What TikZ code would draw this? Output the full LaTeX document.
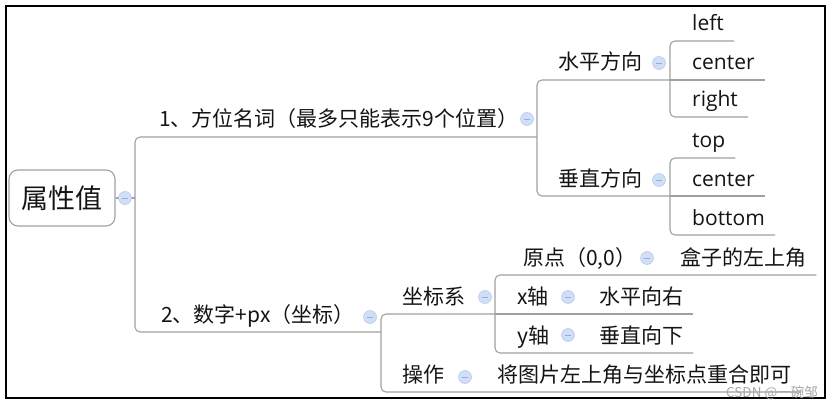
\documentclass[tikz,border=0pt]{standalone}
\usepackage{fontspec}
\setmainfont{Noto Sans CJK SC}
\newfontfamily\latinfont{Open Sans}
\definecolor{linegray}{RGB}{160,160,160}
\definecolor{textc}{RGB}{20,20,20}
\definecolor{togfill}{RGB}{208,222,246}
\definecolor{togdraw}{RGB}{178,198,236}
\definecolor{togminus}{RGB}{150,172,214}
\definecolor{wmark}{RGB}{165,165,165}
\begin{document}
\begin{tikzpicture}[x=1pt,y=-1pt,
  conn/.style={draw=linegray, line width=1.1pt, rounded corners=5pt},
  lbl/.style={anchor=base west, inner sep=0pt, font=\fontsize{21}{25}\selectfont, text=textc},
  lat/.style={lbl, font=\latinfont\fontsize{21}{25}\selectfont},
  tog/.style={circle, fill=togfill, draw=togdraw, line width=0.5pt, minimum size=13pt, inner sep=0pt,
    path picture={\draw[togminus, line width=0.9pt] ([xshift=-3pt]path picture bounding box.center) -- ([xshift=3pt]path picture bounding box.center);}}
]
\useasboundingbox (0,0) rectangle (833,409);
\draw[black, line width=2.2pt] (6,6) rectangle (825,398);

% root
\node[draw=linegray, line width=1.1pt, rounded corners=9pt, minimum width=106pt, minimum height=56pt,
      inner sep=0pt, font=\fontsize{27}{30}\selectfont, text=textc] (root) at (62,198) {属性值};

% labels
\node[lbl] (n1) at (159,127) {1、方位名词（最多只能表示9个位置）};
\node[lbl] (h) at (558,70) {水平方向};
\node[lat] (l1) at (692,31) {left};
\node[lat] (l2) at (692,70) {center};
\node[lat] (l3) at (692,107) {right};
\node[lbl] (v) at (558,186) {垂直方向};
\node[lat] (l4) at (692,148) {top};
\node[lat] (l5) at (692,186) {center};
\node[lat] (l6) at (692,225) {bottom};
\node[lbl] (n2) at (161,322) {2、数字+px（坐标）};
\node[lbl] (zb) at (402,304) {坐标系};
\node[lbl] (yd) at (523,265) {原点（0,0）};
\node[lbl] (yd2) at (680,265) {盒子的左上角};
\node[lbl] (xa) at (517,304) {x轴};
\node[lbl] (xa2) at (599,304) {水平向右};
\node[lbl] (ya) at (517,343) {y轴};
\node[lbl] (ya2) at (599,343) {垂直向下};
\node[lbl] (cz) at (402,382) {操作};
\node[lbl] (cz2) at (497,382) {将图片左上角与坐标点重合即可};

% bracket points
\coordinate (j0t) at (135,137); \coordinate (j0b) at (135,332);
\coordinate (j1m) at (537,137); \coordinate (j1t) at (537,80); \coordinate (j1b) at (537,196);
\coordinate (jht) at (670,41); \coordinate (jhm) at (670,80); \coordinate (jhb) at (670,117);
\coordinate (jvt) at (670,158); \coordinate (jvm) at (670,196); \coordinate (jvb) at (670,235);
\coordinate (j2m) at (381,332); \coordinate (j2t) at (381,314); \coordinate (j2b) at (381,392);
\coordinate (j3t) at (495,275); \coordinate (j3m) at (495,314); \coordinate (j3b) at (495,353);

% connectors
\draw[conn] (root.east) -- (root.east -| j0t);
\draw[conn] (j1m) -- (j0t) -- (j0b) -- (j2m);
\draw[conn] (jhm) -- (j1t) -- (j1b) -- (jvm);
\draw[conn] ([shift={(10pt,-10pt)}]l1.base east) -- (jht) -- (jhb) -- ([shift={(10pt,-10pt)}]l3.base east);
\draw[conn] (jhm) -- ([shift={(10pt,-10pt)}]l2.base east);
\draw[conn] ([shift={(10pt,-10pt)}]l4.base east) -- (jvt) -- (jvb) -- ([shift={(10pt,-10pt)}]l6.base east);
\draw[conn] (jvm) -- ([shift={(10pt,-10pt)}]l5.base east);
\draw[conn] (j3m) -- (j2t) -- (j2b) -- ([shift={(10pt,-10pt)}]cz2.base east);
\draw[conn] ([shift={(10pt,-10pt)}]yd2.base east) -- (j3t) -- (j3b) -- ([shift={(10pt,-10pt)}]ya2.base east);
\draw[conn] (j3m) -- ([shift={(10pt,-10pt)}]xa2.base east);

% toggles
\node[tog] (c0) at (125,198) {};
\node[tog] (c1) at (527,119) {};
\node[tog] (ch) at (659,63) {};
\node[tog] (cv) at (659,180) {};
\node[tog] (c2) at (370,317) {};
\node[tog] (czb) at (485,297) {};
\node[tog] (cyd) at (647,258) {};
\node[tog] (cxa) at (568,297) {};
\node[tog] (cya) at (568,335) {};
\node[tog] (ccz) at (465,377) {};

% watermark
\node[anchor=base east, inner sep=0pt, font=\fontsize{13.5}{15}\selectfont, text=wmark] (wm) at (818,397) {CSDN @一碗邹};
\end{tikzpicture}
\end{document}
